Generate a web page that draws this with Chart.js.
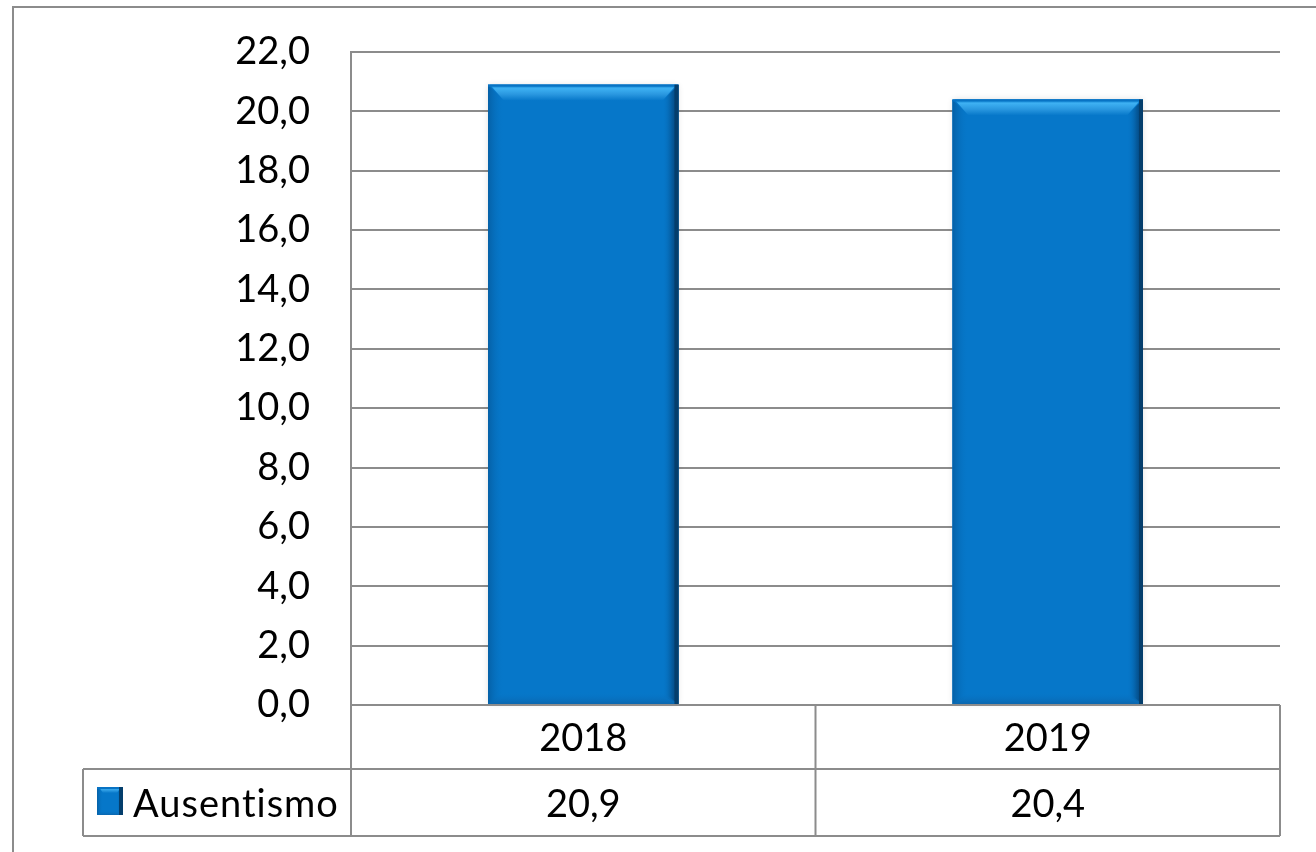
<!DOCTYPE html>
<html>
<head>
<meta charset="utf-8">
<script src="https://cdn.jsdelivr.net/npm/chart.js@4.4.1/dist/chart.umd.min.js"></script>
<style>
html,body{margin:0;padding:0;background:#fff;}
#wrap{width:1316px;height:852px;position:relative;}
</style>
</head>
<body>
<div id="wrap"><canvas id="c" width="1316" height="852"></canvas></div>
<script>
const categories = ['2018', '2019'];
const seriesName = 'Ausentismo';
const values = [20.9, 20.4];
const yMin = 0, yMax = 22, yStep = 2;

const FONT = 'Lato, "Open Sans", sans-serif';
const GRID = '#8c8c8c';
const fmt = v => v.toFixed(1).replace('.', ',');

function bevelRect(ctx, x0, y0, x1, y1, b) {
  const w = x1 - x0, h = y1 - y0;
  ctx.save();
  ctx.fillStyle = '#0677C9';
  ctx.fillRect(x0, y0, w, h);
  let g = ctx.createLinearGradient(x0, 0, x0 + b * 2, 0);
  g.addColorStop(0, '#0560A6'); g.addColorStop(1, 'rgba(6,119,201,0)');
  ctx.fillStyle = g;
  ctx.beginPath(); ctx.moveTo(x0, y0); ctx.lineTo(x0 + b * 2, y0 + b * 2); ctx.lineTo(x0 + b * 2, y1 - b); ctx.lineTo(x0, y1); ctx.closePath(); ctx.fill();
  g = ctx.createLinearGradient(x1 - b * 2, 0, x1, 0);
  g.addColorStop(0, 'rgba(6,119,201,0)'); g.addColorStop(0.6, '#055A9C'); g.addColorStop(1, '#043F70');
  ctx.fillStyle = g;
  ctx.beginPath(); ctx.moveTo(x1, y0); ctx.lineTo(x1 - b * 2, y0 + b * 2); ctx.lineTo(x1 - b * 2, y1 - b); ctx.lineTo(x1, y1); ctx.closePath(); ctx.fill();
  g = ctx.createLinearGradient(0, y0, 0, y0 + b * 2);
  g.addColorStop(0, '#0A7BCB'); g.addColorStop(0.25, '#3DB0F2'); g.addColorStop(0.6, '#2A98E0'); g.addColorStop(1, '#0677C9');
  ctx.fillStyle = g;
  ctx.beginPath(); ctx.moveTo(x0 + 2, y0); ctx.lineTo(x1 - 2, y0); ctx.lineTo(x1 - b * 2, y0 + b * 2); ctx.lineTo(x0 + b * 2, y0 + b * 2); ctx.closePath(); ctx.fill();
  ctx.fillStyle = '#0873C4';
  ctx.fillRect(x0, y0, w, 2);
  g = ctx.createLinearGradient(0, y1 - b * 1.5, 0, y1);
  g.addColorStop(0, 'rgba(6,119,201,0)'); g.addColorStop(1, '#0A66AE');
  ctx.fillStyle = g;
  ctx.beginPath(); ctx.moveTo(x0 + b * 2, y1 - b * 1.5); ctx.lineTo(x1 - b * 2, y1 - b * 1.5); ctx.lineTo(x1, y1); ctx.lineTo(x0, y1); ctx.closePath(); ctx.fill();
  ctx.fillStyle = '#043E6C';
  ctx.fillRect(x1 - 4, y0, 4, h);
  ctx.restore();
}

const decor = {
  id: 'decor',
  beforeDraw(chart) {
    const ctx = chart.ctx;
    ctx.save();
    ctx.fillStyle = '#fff';
    ctx.fillRect(0, 0, chart.width, chart.height);
    ctx.strokeStyle = GRID; ctx.lineWidth = 2;
    ctx.strokeRect(13, 7, chart.width + 40, chart.height + 40);
    ctx.restore();
  },
  afterDatasetsDraw(chart) {
    const ctx = chart.ctx;
    const meta = chart.getDatasetMeta(0);
    meta.data.forEach(bar => {
      const x0 = bar.x - bar.width / 2, x1 = bar.x + bar.width / 2;
      ctx.save();
      ctx.shadowColor = 'rgba(0,0,0,0.12)'; ctx.shadowBlur = 6;
      ctx.fillStyle = '#0677C9';
      ctx.fillRect(x0, bar.y, x1 - x0, bar.base - bar.y);
      ctx.restore();
      bevelRect(ctx, x0, bar.y, x1, bar.base, 8);
    });
  },
  afterDraw(chart) {
    const ctx = chart.ctx;
    const xs = chart.scales.x, ys = chart.scales.y;
    const area = chart.chartArea;
    const top = ys.getPixelForValue(yMin);
    const r1 = top + 64, r2 = r1 + 67;
    const leftX = 83;
    const n = categories.length;
    const colW = (area.right - area.left) / n;
    ctx.save();
    ctx.strokeStyle = GRID; ctx.lineWidth = 2;
    ctx.beginPath();
    ctx.moveTo(area.left, top); ctx.lineTo(area.right, top);
    ctx.moveTo(leftX, r1); ctx.lineTo(area.right, r1);
    ctx.moveTo(leftX, r2); ctx.lineTo(area.right, r2);
    for (let i = 0; i <= n; i++) {
      const x = area.left + colW * i;
      ctx.moveTo(x, top); ctx.lineTo(x, r2);
    }
    ctx.moveTo(leftX, r1); ctx.lineTo(leftX, r2);
    ctx.stroke();
    ctx.fillStyle = '#000';
    ctx.font = '38px ' + FONT;
    ctx.textAlign = 'center'; ctx.textBaseline = 'middle';
    categories.forEach((c, i) => {
      const cx = xs.getPixelForValue(i);
      ctx.fillText(c, cx, (top + r1) / 2 + 2);
      ctx.fillText(fmt(values[i]), cx, (r1 + r2) / 2 + 2);
    });
    bevelRect(ctx, 97, r1 + 18, 123, r1 + 46, 3);
    ctx.textAlign = 'left';
    ctx.save();
    ctx.letterSpacing = '1px';
    ctx.fillText(seriesName, 133, (r1 + r2) / 2 + 2);
    ctx.restore();
    ctx.restore();
  }
};

new Chart(document.getElementById('c'), {
  type: 'bar',
  data: {
    labels: categories,
    datasets: [{
      label: seriesName,
      data: values,
      backgroundColor: 'rgba(0,0,0,0)',
      borderWidth: 0,
      categoryPercentage: 1,
      barPercentage: 0.41
    }]
  },
  options: {
    responsive: false,
    animation: false,
    devicePixelRatio: 1,
    layout: { padding: { left: 0, top: 52, right: 36, bottom: 147 } },
    plugins: { legend: { display: false }, tooltip: { enabled: false } },
    scales: {
      x: { display: false, offset: true },
      y: {
        min: yMin, max: yMax,
        afterFit(scale) { scale.width = 351; scale.paddingTop = 0; scale.paddingBottom = 0; },
        ticks: {
          stepSize: yStep,
          padding: 41,
          color: '#000',
          font: { family: FONT, size: 38 },
          callback: v => fmt(v)
        },
        grid: { color: GRID, lineWidth: 2, drawTicks: false },
        border: { color: GRID, width: 2 }
      }
    }
  },
  plugins: [decor]
});
</script>
</body>
</html>
